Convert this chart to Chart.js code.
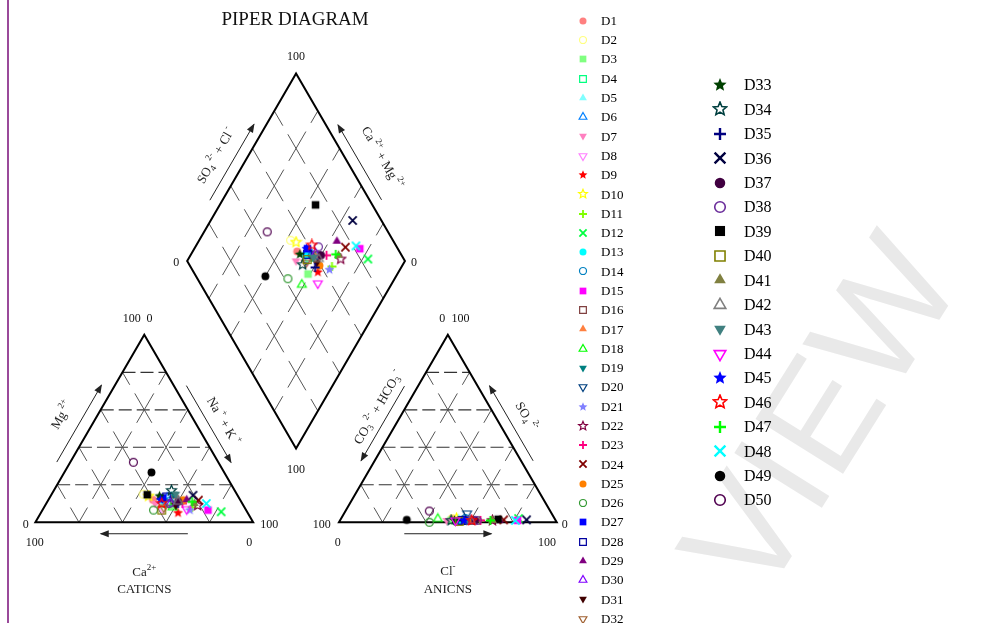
<!DOCTYPE html>
<html><head><meta charset="utf-8">
<script src="https://cdn.jsdelivr.net/npm/chart.js@4.4.1/dist/chart.umd.min.js"></script>
<style>
html,body{margin:0;padding:0;background:#fff;overflow:hidden}
#stage{position:relative;width:987px;height:623px;overflow:hidden;background:#fff}
#c{position:absolute;left:0;top:0}
.lg{position:absolute;font-family:'Liberation Serif','Times New Roman',serif;color:#000;white-space:nowrap}
#border{position:absolute;left:7px;top:0;width:2px;height:623px;background:#9a4a9a}
</style></head>
<body><div id="stage"><canvas id="c" width="987" height="623"></canvas><div id="border"></div></div>
<script>
// ---------------- DATA (percent of meq) ----------------
const sampleNames = ['D1','D2','D3','D4','D5','D6','D7','D8','D9','D10','D11','D12','D13','D14','D15','D16','D17','D18','D19','D20','D21','D22','D23','D24','D25','D26','D27','D28','D29','D30','D31','D32','D33','D34','D35','D36','D37','D38','D39','D40','D41','D42','D43','D44','D45','D46','D47','D48','D49','D50'];
const mgPct  = [12,15,9,10,11,13,10,7,5,14, 8,5.6,12,11,6.5,12,14,8,15,12, 6.5,9,10,11.8,11.8,6.5,13,13.5,12,10, 9,8,14,17,10,14.4,11,10,14.7,6.5, 10,11,15,7,12,10,10.9,10,26.6,32];
const naKPct = [48,42,59,55,52,54,50,55,63,45, 68,82.5,53,56,76,58,57,59,56,58, 67.7,70,62.5,69,62,51,52,53.5,63.5,57, 60,55,50,54,60.5,65.2,60,56.5,44,54.8, 68,60,57,66,51.5,53,66.5,73.5,40,29];
const so4Pct = [2,2,1,1,2,1,1,1,1,2, 1,2,1,2,1,1,1,1.8,1,4.7, 1,1,1,1.3,1,0,1,1,1,1, 1,1,1,1,1,1.3,1,1,1.6,0.5, 1,1,1,1,1,1,1,1,1.3,6];
const clPct  = [51,51,51,56,54,58,49,54,56,53, 64,81.5,55,57,81.5,60,59,44.5,57,56.5, 62,70,64.5,75,58.5,41.5,57.5,56,73,60, 58,53,52.5,51,56,85.5,62,63,72.3,55, 70,60,58,53,57,60.5,69,80.5,30.5,38.5];
const tickLabels = ['0','100'];

// ---------------- STYLES ----------------
const markerShapes = ['circleF','circleO','squareF','squareO','triF','triO','dtriF','dtriO','starF','starO','plus','x',
 'circleF','circleO','squareF','squareO','triF','triO','dtriF','dtriO','starF','starO','plus','x',
 'circleF','circleO','squareF','squareO','triF','triO','dtriF','dtriO','starF','starO','plus','x',
 'circleF','circleO','squareF','squareO','triF','triO','dtriF','dtriO','starF','starO','plus','x',
 'circleF','circleO'];
const markerColors = ['#FF8080','#FFFF80','#80FF80','#00FF80','#80FFFF','#0080FF','#FF80C0','#FF80FF','#FF0000','#FFFF00','#80FF00','#00FF40',
 '#00FFFF','#0080C0','#FF00FF','#804040','#FF8040','#00FF00','#008080','#004080','#8080FF','#800040','#FF0080','#800000',
 '#FF8000','#339933','#0000FF','#0000A0','#800080','#8000FF','#400000','#A06030','#004000','#004040','#000080','#000040',
 '#400040','#6A2C9A','#000000','#808000','#808040','#808080','#408080','#FF00FF','#0000FF','#FF0000','#00FF00','#00FFFF',
 '#000000','#500050'];

function makeMarker(shape, color, s){
  const W = Math.round(s) + 4;
  const c = document.createElement('canvas'); c.width = W; c.height = W;
  const g = c.getContext('2d'); g.translate(W/2, W/2);
  g.strokeStyle = color; g.fillStyle = color; g.lineJoin = 'miter';
  const filled = shape.endsWith('F');
  const base = shape.replace(/[FO]$/, '');
  g.lineWidth = s >= 11 ? 1.6 : 1.2;
  g.beginPath();
  if (base === 'circle') { g.arc(0,0,s*0.44,0,Math.PI*2); }
  else if (base === 'square') { const h=s*0.42; g.rect(-h,-h,2*h,2*h); }
  else if (base === 'tri' || base === 'dtri') {
    const r=s*0.56, sg = base==='tri'?1:-1;
    g.moveTo(0,-sg*r); g.lineTo(r*0.866, sg*r*0.5); g.lineTo(-r*0.866, sg*r*0.5); g.closePath();
  } else if (base === 'star') {
    const R=s*0.58, r=R*0.45;
    for (let k=0;k<10;k++){ const a=-Math.PI/2 + k*Math.PI/5; const rr = k%2?r:R; const px=rr*Math.cos(a), py=rr*Math.sin(a); k?g.lineTo(px,py):g.moveTo(px,py);} g.closePath();
  } else if (base === 'plus') {
    const h=s*0.5; g.lineWidth=Math.max(1.8,s*0.2); g.moveTo(-h,0); g.lineTo(h,0); g.moveTo(0,-h); g.lineTo(0,h); g.stroke(); return c;
  } else if (base === 'x') {
    const h=s*0.45; g.lineWidth=Math.max(1.8,s*0.2); g.moveTo(-h,-h); g.lineTo(h,h); g.moveTo(h,-h); g.lineTo(-h,h); g.stroke(); return c;
  }
  if (filled) g.fill(); else g.stroke();
  return c;
}

// ---------------- GEOMETRY ----------------
const H = Math.sqrt(3)/2, GAP = 0.394;
function catPt(i){ const mg=mgPct[i]/100, na=naKPct[i]/100; return {x: na+0.5*mg, y: H*mg}; }
function anPt(i){ const s=so4Pct[i]/100, c=clPct[i]/100; return {x: 1+GAP+c+0.5*s, y: H*s}; }
function diaPt(i){ const n=naKPct[i]/100, a=(so4Pct[i]+clPct[i])/100; const t=1+GAP+a-n; return {x: n+t/2, y: H*t}; }

const V = { A:[0,0], B:[1,0], C:[0.5,H], D:[1+GAP,0], E:[2+GAP,0], F:[1.5+GAP,H],
  P0:[1+GAP/2,H*GAP], L:[0.5+GAP/2,H*(1+GAP)], R:[1.5+GAP/2,H*(1+GAP)], T:[1+GAP/2,H*(2+GAP)] };
const DIR = { up60:[0.5,H], down60:[0.5,-H], left:[-1,0], right:[1,0], dl:[-0.5,-H], ul:[-0.5,H] };
const NRM = { ul:[-H,0.5], ur:[H,0.5], dn:[0,-1] };
function ep(P,d,n,s,o){ return [P[0]+d[0]*s+n[0]*o, P[1]+d[1]*s+n[1]*o]; }

const arrows = [
  [V.A,DIR.up60,NRM.ul,0.29,0.70,0.054],
  [V.C,DIR.down60,NRM.ur,0.30,0.71,0.05],
  [V.B,DIR.left,NRM.dn,0.30,0.70,0.053],
  [V.F,DIR.dl,NRM.ul,0.305,0.703,0.054],
  [V.E,DIR.ul,NRM.ur,0.30,0.70,0.048],
  [V.D,DIR.right,NRM.dn,0.30,0.70,0.053],
  [V.L,DIR.up60,NRM.ul,0.295,0.70,0.05],
  [V.R,DIR.ul,NRM.ur,0.298,0.698,0.048]
];
const edgeLabels = [
  [V.A,DIR.up60,NRM.ul,0.49,0.14,-60,[['Mg','n'],[' 2+','sup']]],
  [V.C,DIR.down60,NRM.ur,0.527,0.112,60,[['Na','n'],[' +','sup'],[' + K','n'],[' +','sup']]],
  [V.F,DIR.dl,NRM.ul,0.45,0.108,-60,[['CO','n'],['3','sub'],[' 2-','sup'],[' + HCO','n'],['3','sub'],[' -','sup']]],
  [V.E,DIR.ul,NRM.ur,0.494,0.121,60,[['SO','n'],['4','sub'],[' 2-','sup']]],
  [V.L,DIR.up60,NRM.ul,0.487,0.127,-60,[['SO','n'],['4','sub'],[' 2-','sup'],[' + Cl','n'],[' -','sup']]],
  [V.R,DIR.ul,NRM.ur,0.465,0.145,60,[['Ca','n'],[' 2+','sup'],[' + Mg','n'],[' 2+','sup']]],
  [V.B,DIR.left,NRM.dn,0.5,0.233,0,[['Ca','n'],['2+','sup']]],
  [V.B,DIR.left,NRM.dn,0.5,0.31,0,[['CATICNS','n']]],
  [V.D,DIR.right,NRM.dn,0.5,0.228,0,[['Cl','n'],['-','sup']]],
  [V.D,DIR.right,NRM.dn,0.5,0.31,0,[['ANICNS','n']]]
];
// vertex, label index, pixel offset
const ticks = [
  [V.C,1,-12.4,-16],[V.C,0,5.3,-16],[V.A,0,-9.7,2.3],[V.A,1,-0.7,21],[V.B,1,16,2.3],[V.B,0,-4,21],
  [V.F,0,-5.7,-16],[V.F,1,12.6,-16],[V.D,1,-17.3,2.3],[V.D,0,-1.3,21],[V.E,0,8,2.3],[V.E,1,-9.7,21],
  [V.T,1,0,-16.6],[V.L,0,-11,2],[V.R,0,9,2],[V.P0,1,0,21]
];

function rich(ctx, parts, x, y, angDeg, size, color){
  ctx.save(); ctx.translate(x,y); ctx.rotate(angDeg*Math.PI/180);
  const small = Math.round(size*0.72);
  const fontFor = k => (k==='n'?size:small)+'px "Liberation Serif", serif';
  let w=0; const ms=[];
  for (const [t,k] of parts){ ctx.font=fontFor(k); const m=ctx.measureText(t).width; ms.push(m); w+=m; }
  let cx=-w/2; ctx.textBaseline='middle'; ctx.textAlign='left'; ctx.fillStyle=color;
  parts.forEach(([t,k],i)=>{ ctx.font=fontFor(k); const dy = k==='sup'? -size*0.42 : (k==='sub'? size*0.3 : 0); ctx.fillText(t,cx,dy); cx+=ms[i]; });
  ctx.restore();
}

const frame = {
  id:'piperFrame',
  beforeDraw(chart){
    const ctx = chart.ctx;
    ctx.save(); ctx.translate(828, 420); ctx.rotate(-58*Math.PI/180);
    ctx.font='150px "Liberation Sans", sans-serif'; ctx.fillStyle='#e9e9e9'; ctx.textAlign='center'; ctx.textBaseline='middle';
    ctx.fillText('VIEW',0,0); ctx.restore();
  },
  beforeDatasetsDraw(chart){
    const ctx = chart.ctx, xs = chart.scales.x, ys = chart.scales.y;
    const P = p => [xs.getPixelForValue(p[0]), ys.getPixelForValue(p[1])];
    const seg = (a,b,dash,off,color,w) => { const pa=P(a), pb=P(b); ctx.save(); ctx.beginPath(); ctx.setLineDash(dash); ctx.lineDashOffset=off; ctx.strokeStyle=color; ctx.lineWidth=w; ctx.moveTo(pa[0],pa[1]); ctx.lineTo(pb[0],pb[1]); ctx.stroke(); ctx.restore(); };
    const steps = [0.2,0.4,0.6,0.8];
    const nodeDash = [34,10], hDash=[13,5];
    for (const ox of [0, 1+GAP]) {
      for (const k of steps) {
        seg([ox+0.5*k,H*k],[ox+1-0.5*k,H*k],hDash,0,'#333',1.2);
        seg([ox+k,0],[ox+k+0.5*(1-k),H*(1-k)],nodeDash,17,'#555',1);
        seg([ox+k,0],[ox+k/2,H*k],nodeDash,17,'#555',1);
      }
    }
    for (const k of steps) {
      const a=[V.L[0]+k*(V.P0[0]-V.L[0]), V.L[1]+k*(V.P0[1]-V.L[1])];
      seg(a,[a[0]+V.T[0]-V.L[0], a[1]+V.T[1]-V.L[1]],nodeDash,17,'#555',1);
      const c=[V.L[0]+k*(V.T[0]-V.L[0]), V.L[1]+k*(V.T[1]-V.L[1])];
      seg(c,[c[0]+V.P0[0]-V.L[0], c[1]+V.P0[1]-V.L[1]],nodeDash,17,'#555',1);
    }
    const poly = pts => { ctx.save(); ctx.beginPath(); pts.forEach((p,i)=>{const q=P(p); i?ctx.lineTo(q[0],q[1]):ctx.moveTo(q[0],q[1]);}); ctx.closePath(); ctx.strokeStyle='#000'; ctx.lineWidth=2; ctx.lineJoin='miter'; ctx.stroke(); ctx.restore(); };
    poly([V.A,V.B,V.C]); poly([V.D,V.E,V.F]); poly([V.P0,V.R,V.T,V.L]);
    // arrows
    for (const [Pt,d,n,s0,s1,o] of arrows) {
      const a=P(ep(Pt,d,n,s0,o)), b=P(ep(Pt,d,n,s1,o));
      ctx.save(); ctx.strokeStyle='#222'; ctx.fillStyle='#222'; ctx.lineWidth=1;
      ctx.beginPath(); ctx.moveTo(a[0],a[1]); ctx.lineTo(b[0],b[1]); ctx.stroke();
      const ang=Math.atan2(b[1]-a[1], b[0]-a[0]);
      ctx.translate(b[0],b[1]); ctx.rotate(ang);
      ctx.beginPath(); ctx.moveTo(1,0); ctx.lineTo(-8,-3.5); ctx.lineTo(-8,3.5); ctx.closePath(); ctx.fill();
      ctx.restore();
    }
    for (const [Pt,d,n,s,o,ang,parts] of edgeLabels) { const q=P(ep(Pt,d,n,s,o)); rich(ctx,parts,q[0],q[1],ang,13,'#222'); }
    ctx.save(); ctx.fillStyle='#111'; ctx.font='12px "Liberation Serif", serif'; ctx.textAlign='center'; ctx.textBaseline='middle';
    for (const [Pt,li,dx,dy] of ticks) { const q=P(Pt); ctx.fillText(tickLabels[li], q[0]+dx, q[1]+dy); }
    ctx.restore();
    const tp = P(V.T);
    ctx.save(); ctx.fillStyle='#111'; ctx.font='19px "Liberation Serif", serif'; ctx.textAlign='center'; ctx.textBaseline='middle';
    ctx.fillText('PIPER DIAGRAM', tp[0]-1, 20); ctx.restore();
  }
};

const chartMarkers = sampleNames.map((n,i)=>makeMarker(markerShapes[i], markerColors[i], 9));
const datasets = sampleNames.map((name,i)=>({
  label:name, data:[catPt(i), anPt(i), diaPt(i)], pointStyle: chartMarkers[i], pointRadius:4,
  showLine:false, order: sampleNames.length - i
}));

new Chart(document.getElementById('c'), {
  type:'scatter',
  data:{ datasets },
  options:{
    responsive:false, animation:false, devicePixelRatio:1, events:[],
    layout:{ padding:0 },
    scales:{
      x:{ type:'linear', display:false, min:-30.7/220, max:(987-30.7)/220 },
      y:{ type:'linear', display:false, min:(525.7-623)/220, max:525.7/220 }
    },
    plugins:{ legend:{display:false}, tooltip:{enabled:false}, title:{display:false} }
  },
  plugins:[frame]
});

// HTML legend (two columns)
const stage = document.getElementById('stage');
sampleNames.forEach((name,i)=>{
  const leftCol = i < 32; const k = leftCol ? i : i-32;
  const yc = leftCol ? 20.7 + k*19.29 : 85 + k*24.41;
  const mx = leftCol ? 583 : 720, tx = leftCol ? 601 : 744;
  const ms = leftCol ? 8 : 12, fs = leftCol ? 13 : 16;
  const m = makeMarker(markerShapes[i], markerColors[i], ms);
  m.style.position='absolute'; m.style.left=(mx - m.width/2)+'px'; m.style.top=(yc - m.height/2)+'px';
  stage.appendChild(m);
  const t = document.createElement('div'); t.className='lg'; t.textContent=name;
  t.style.left=tx+'px'; t.style.top=(yc - fs*0.6)+'px'; t.style.fontSize=fs+'px'; t.style.lineHeight=(fs*1.2)+'px';
  stage.appendChild(t);
});
</script>
</body></html>
